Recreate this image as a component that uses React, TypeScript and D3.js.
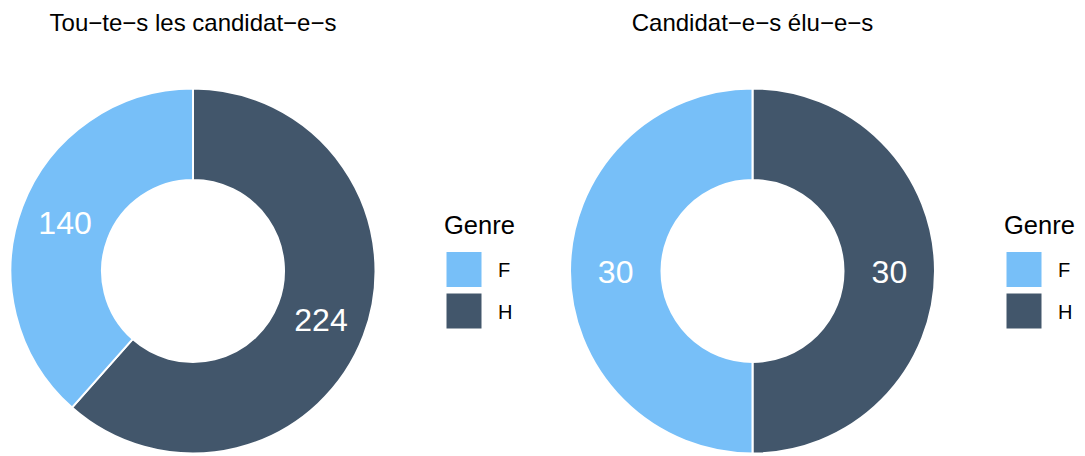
import React from "react";
import * as d3 from "d3";

const categories = ["F", "H"];
const allValues = [140, 224];
const electedValues = [30, 30];
const titles = ["Tou\u2212te\u2212s les candidat\u2212e\u2212s", "Candidat\u2212e\u2212s \u00e9lu\u2212e\u2212s"];
const legendTitle = "Genre";
const colors = ["#77BFF8", "#42566B"];

const W = 1085;
const H = 456;
const R = 182.5;
const R0 = 91;
const FONT = "'Liberation Sans', Arial, Helvetica, sans-serif";

function Donut({ values, cx, cy, title, legendX }: { values: number[]; cx: number; cy: number; title: string; legendX: number }) {
  const color = d3.scaleOrdinal<string, string>().domain(categories).range(colors);
  const data = categories.map((c, i) => ({ cat: c, value: values[i] }));
  // H drawn first clockwise from top, then F
  const ordered = [data[1], data[0]];
  const pie = d3.pie<{ cat: string; value: number }>().sort(null).value((d) => d.value);
  const arcs = pie(ordered);
  const arc = d3.arc<d3.PieArcDatum<{ cat: string; value: number }>>().innerRadius(R0).outerRadius(R);
  const labelArc = d3.arc<d3.PieArcDatum<{ cat: string; value: number }>>().innerRadius(R * 0.5).outerRadius(R);
  return (
    <g>
      <text x={cx} y={30.5} textAnchor="middle" fontSize={24} fontFamily={FONT} fill="#000">{title}</text>
      <g transform={`translate(${cx},${cy})`}>
        {arcs.map((a) => (
          <path key={a.data.cat} d={arc(a) || ""} fill={color(a.data.cat)} stroke="#fff" strokeWidth={2} />
        ))}
        {arcs.map((a) => {
          const [x, y] = labelArc.centroid(a);
          return (
            <text key={"l" + a.data.cat} x={x} y={y + 11.5} textAnchor="middle" fontSize={32} fontFamily={FONT} fill="#fff">
              {a.data.value}
            </text>
          );
        })}
      </g>
      <g>
        <text x={legendX - 2} y={233.5} fontSize={25.5} fontFamily={FONT} fill="#000">{legendTitle}</text>
        {categories.map((c, i) => (
          <g key={c}>
            <rect x={legendX} y={251.5 + i * 41.5} width={36} height={36} fill={color(c)} stroke="#fff" strokeWidth={1} />
            <text x={legendX + 52} y={251.5 + i * 41.5 + 18 + 7.5} fontSize={20} fontFamily={FONT} fill="#000">{c}</text>
          </g>
        ))}
      </g>
    </g>
  );
}

export default function App() {
  return (
    <div style={{ position: "absolute", left: 0, top: 0 }}>
      <svg width={W} height={H} style={{ display: "block", background: "#fff" }}>
        <rect width={W} height={H} fill="#fff" />
        <Donut values={allValues} cx={193} cy={271} title={titles[0]} legendX={446} />
        <Donut values={electedValues} cx={752.5} cy={271} title={titles[1]} legendX={1006} />
      </svg>
    </div>
  );
}
